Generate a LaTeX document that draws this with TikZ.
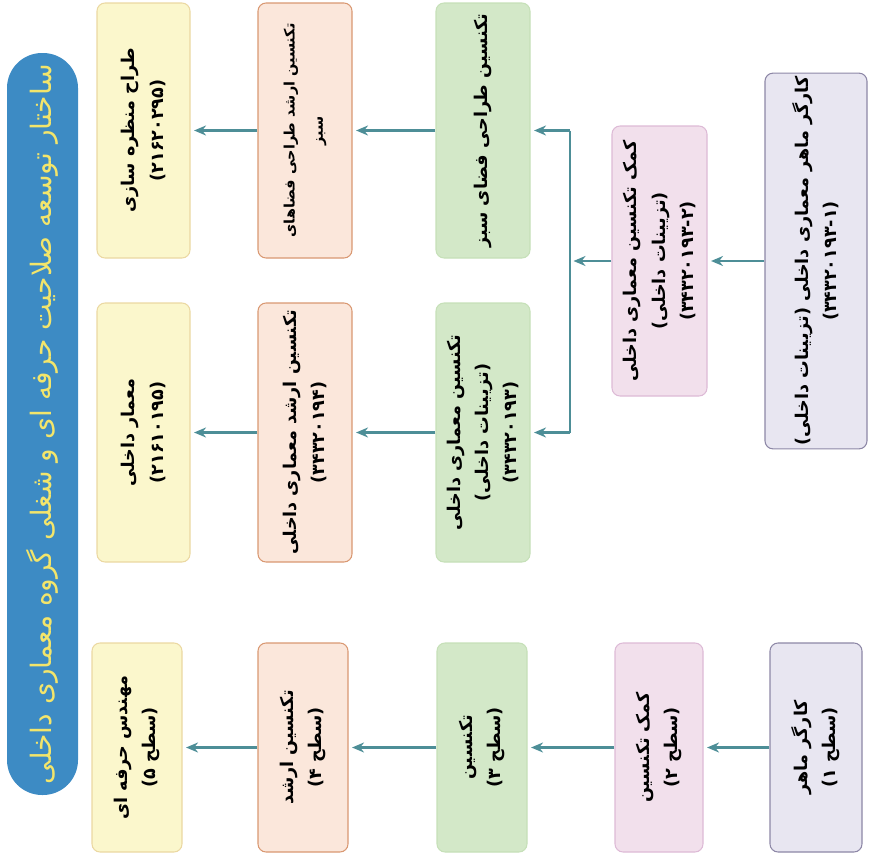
\documentclass[tikz,border=0pt]{standalone}
\usepackage{fontspec}
\newfontfamily\arabicfont[Script=Arabic]{DejaVu Sans}
\TeXXeTstate=1
\usepackage{tikz}
\usetikzlibrary{arrows.meta}
\newcommand{\pxu}{0.02cm}
\newcommand{\fa}[1]{\beginR #1\endR}

\definecolor{yelF}{HTML}{FBF7CC}
\definecolor{yelD}{HTML}{EBD8A2}
\definecolor{peaF}{HTML}{FBE7DB}
\definecolor{peaD}{HTML}{D99872}
\definecolor{grnF}{HTML}{D3E8C8}
\definecolor{grnD}{HTML}{C6E0B8}
\definecolor{pnkF}{HTML}{F2E0EC}
\definecolor{pnkD}{HTML}{DDBAD6}
\definecolor{lavF}{HTML}{E8E6F1}
\definecolor{lavD}{HTML}{8D87A6}
\definecolor{ttlF}{HTML}{3D8BC4}
\definecolor{ttlT}{HTML}{F3E56B}
\definecolor{arrC}{HTML}{4D8E97}

\begin{document}
\begin{tikzpicture}[
    box/.style={draw, rounded corners=0.16cm, rotate=90, align=center, inner sep=2pt, line width=0.6pt,
        font=\arabicfont\bfseries\fontsize{10}{16}\selectfont},
    yel/.style={box, fill=yelF, draw=yelD},
    pea/.style={box, fill=peaF, draw=peaD},
    grn/.style={box, fill=grnF, draw=grnD},
    pnk/.style={box, fill=pnkF, draw=pnkD},
    lav/.style={box, fill=lavF, draw=lavD},
    rowA/.style={minimum width=255*\pxu},
    rowB/.style={minimum width=259*\pxu},
    rowC/.style={minimum width=209*\pxu},
    col/.style={minimum height=#1*\pxu},
    arr/.style={draw=arrC, line width=1.6pt, -{Stealth[length=2.4mm,width=2mm]}, shorten >=2pt},
    link/.style={draw=arrC, line width=1.6pt}]
    \useasboundingbox (0,0) rectangle (870*\pxu,-859*\pxu);

    % Title bar
    \node[fill=ttlF, rounded corners=0.7cm, rotate=90, minimum width=742*\pxu, minimum height=71*\pxu,
        text=ttlT, font=\arabicfont\fontsize{16}{20}\selectfont] (title) at (42.5*\pxu,-424*\pxu)
        {\fa{ساختار توسعه صلاحیت حرفه ای و شغلی گروه معماری داخلی}};

    % First row
    \node[yel, rowA, col=93] (yel-1) at (143.5*\pxu,-130.5*\pxu) {\fa{طراح منظره سازی}\\(۲۱۶۲۰۲۹۵)};
    \node[pea, rowA, col=94, font=\arabicfont\bfseries\fontsize{8.2}{16}\selectfont] (pea-1) at (305*\pxu,-130.5*\pxu)
        {\fa{تکنسین ارشد طراحی فضاهای}\\\fa{سبز}};
    \node[grn, rowA, col=94] (grn-1) at (483*\pxu,-130.5*\pxu) {\fa{تکنسین طراحی فضای سبز}};

    % Second row
    \node[yel, rowB, col=93] (yel-2) at (143.5*\pxu,-432.5*\pxu) {\fa{معمار داخلی}\\(۲۱۶۱۰۱۹۵)};
    \node[pea, rowB, col=94] (pea-2) at (305*\pxu,-432.5*\pxu) {\fa{تکنسین ارشد معماری داخلی}\\(۳۴۳۲۰۱۹۴)};
    \node[grn, rowB, col=94] (grn-2) at (483*\pxu,-432.5*\pxu) {\fa{تکنسین معماری داخلی}\\\fa{(تزیینات داخلی)}\\(۳۴۳۲۰۱۹۳)};
    \node[pnk, minimum width=270*\pxu, col=95] (pnk-1) at (659.5*\pxu,-261*\pxu) {\fa{کمک تکنسین معماری داخلی}\\\fa{(تزیینات داخلی)}\\(۳۴۳۲۰۱۹۳-۲)};
    \node[lav, minimum width=368*\pxu, col=102] (lav-1) at (816*\pxu,-261*\pxu) {\fa{کارگر ماهر معماری داخلی (تزیینات داخلی)}\\(۳۴۳۲۰۱۹۳-۱)};

    % Third row
    \node[yel, rowC, col=90] (yel-3) at (137*\pxu,-747.5*\pxu) {\fa{مهندس حرفه ای}\\\fa{(سطح ۵)}};
    \node[pea, rowC, col=90] (pea-3) at (303*\pxu,-747.5*\pxu) {\fa{تکنسین ارشد}\\\fa{(سطح ۴)}};
    \node[grn, rowC, col=90] (grn-3) at (482*\pxu,-747.5*\pxu) {\fa{تکنسین}\\\fa{(سطح ۳)}};
    \node[pnk, rowC, col=88] (pnk-3) at (659*\pxu,-747.5*\pxu) {\fa{کمک تکنسین}\\\fa{(سطح ۲)}};
    \node[lav, rowC, col=92] (lav-3) at (816*\pxu,-747.5*\pxu) {\fa{کارگر ماهر}\\\fa{(سطح ۱)}};

    % Connectors
    \coordinate (br-1) at (570*\pxu,-130.5*\pxu);
    \coordinate (br-2) at (570*\pxu,-432.5*\pxu);
    \coordinate (br-0) at (570*\pxu,-261*\pxu);
    \draw[link] (br-1) -- (br-2);
    \draw[arr] (br-1) -- (grn-1.south);
    \draw[arr] (br-2) -- (grn-2.south);
    \draw[arr] (pnk-1.north) -- (br-0);
    \draw[arr] (lav-1.north) -- (pnk-1.south);
    \draw[arr] (grn-1.north) -- (pea-1.south);
    \draw[arr] (pea-1.north) -- (yel-1.south);
    \draw[arr] (grn-2.north) -- (pea-2.south);
    \draw[arr] (pea-2.north) -- (yel-2.south);
    \draw[arr] (lav-3.north) -- (pnk-3.south);
    \draw[arr] (pnk-3.north) -- (grn-3.south);
    \draw[arr] (grn-3.north) -- (pea-3.south);
    \draw[arr] (pea-3.north) -- (yel-3.south);

\end{tikzpicture}
\end{document}
